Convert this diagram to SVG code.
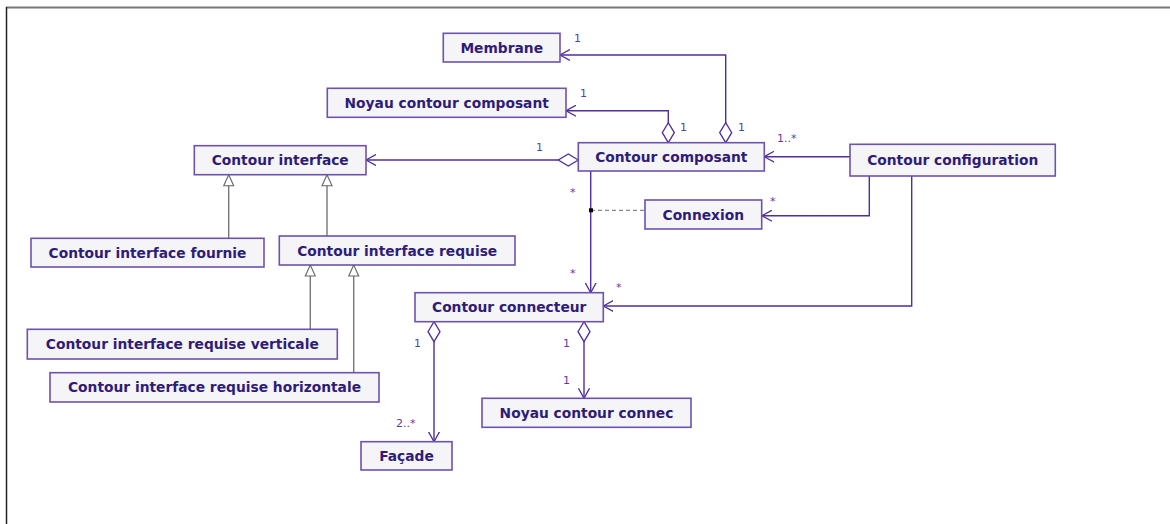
<svg xmlns="http://www.w3.org/2000/svg" width="1170" height="524" viewBox="0 0 1170 524">
<style>
.box{fill:#f5f5f7;stroke:#6e52ad;stroke-width:1.6}
.lbl{font-family:"DejaVu Sans",Verdana,sans-serif;font-weight:bold;font-size:13.8px;fill:#2f1c78;text-anchor:middle}
.m{font-family:"DejaVu Sans",Verdana,sans-serif;font-size:11px;fill:#5a3d9e}
.as{fill:none;stroke:#4e2f9c;stroke-width:1.4}
.gen{fill:none;stroke:#777;stroke-width:1.4}
</style>
<defs>
<marker id="open" viewBox="0 0 10 12" refX="10" refY="6" markerWidth="10" markerHeight="12" orient="auto" markerUnits="userSpaceOnUse"><path d="M0,0.5 L10,6 L0,11.5" fill="none" stroke="#4e2f9c" stroke-width="1.3"/></marker>
<marker id="dia" viewBox="-1 -1 22 14" refX="0" refY="6" markerWidth="22" markerHeight="14" orient="auto" markerUnits="userSpaceOnUse"><path d="M0,6 L10,0 L20,6 L10,12 Z" fill="#fff" stroke="#4e2f9c" stroke-width="1.3"/></marker>
<marker id="tri" viewBox="-1 -1 13 12" refX="11" refY="5" markerWidth="13" markerHeight="12" orient="auto" markerUnits="userSpaceOnUse"><path d="M0,0 L11,5 L0,10 Z" fill="#fff" stroke="#666" stroke-width="1.1"/></marker>
</defs>
<rect width="1170" height="524" fill="#fff"/>
<line x1="6" y1="7.5" x2="1170" y2="7.5" stroke="#777" stroke-width="2"/>
<line x1="6.5" y1="7" x2="6.5" y2="524" stroke="#222" stroke-width="1.5"/>

<g id="connectors">
<path class="as" d="M725.7,142.7 V55 H560" marker-start="url(#dia)" marker-end="url(#open)"/>
<path class="as" d="M668.3,142.7 V110.7 H566" marker-start="url(#dia)" marker-end="url(#open)"/>
<path class="as" d="M578.3,160 H366" marker-start="url(#dia)" marker-end="url(#open)"/>
<path class="as" d="M850,156.7 H764.3" marker-end="url(#open)"/>
<path class="as" d="M869.3,176 V215.7 H762" marker-end="url(#open)"/>
<path class="as" d="M911.7,176 V306 H603.3" marker-end="url(#open)"/>
<path class="as" d="M590.7,171 V292.7" marker-end="url(#open)"/>
<path d="M591,210.3 H645" fill="none" stroke="#888" stroke-width="1.3" stroke-dasharray="4,3"/>
<rect x="589" y="208.3" width="4" height="4" fill="#000"/>
<path class="as" d="M434,321.7 V441.7" marker-start="url(#dia)" marker-end="url(#open)"/>
<path class="as" d="M584,321.7 V398.3" marker-start="url(#dia)" marker-end="url(#open)"/>
<path class="gen" d="M228.7,238 V174.7" marker-end="url(#tri)"/>
<path class="gen" d="M327,236 V174.7" marker-end="url(#tri)"/>
<path class="gen" d="M310.3,329.3 V265" marker-end="url(#tri)"/>
<path class="gen" d="M353.7,372.7 V265" marker-end="url(#tri)"/>
<text class="m" x="574" y="42">1</text>
<text class="m" x="580" y="97">1</text>
<text class="m" x="680" y="131">1</text>
<text class="m" x="738" y="131">1</text>
<text class="m" x="536" y="151">1</text>
<text class="m" x="777" y="142">1..*</text>
<text class="m" x="770" y="205">*</text>
<text class="m" x="570" y="196">*</text>
<text class="m" x="570" y="277">*</text>
<text class="m" x="616" y="291">*</text>
<text class="m" x="414" y="347">1</text>
<text class="m" x="396" y="427">2..*</text>
<text class="m" x="563" y="347">1</text>
<text class="m" x="563" y="384">1</text>
</g>

<g id="membrane"><rect class="box" x="443.3" y="33.3" width="116.7" height="28.7"/><text class="lbl" x="501.7" y="52.5">Membrane</text></g>
<g id="noyau-contour-composant"><rect class="box" x="327.3" y="88.3" width="238.7" height="29"/><text class="lbl" x="446.7" y="107.7">Noyau contour composant</text></g>
<g id="contour-composant"><rect class="box" x="578.3" y="142.7" width="186" height="28.3"/><text class="lbl" x="671.3" y="161.8">Contour composant</text></g>
<g id="contour-configuration"><rect class="box" x="850" y="144.3" width="205.3" height="31.7"/><text class="lbl" x="952.7" y="165">Contour configuration</text></g>
<g id="contour-interface"><rect class="box" x="194.3" y="145.7" width="171.7" height="29"/><text class="lbl" x="280.2" y="165.1">Contour interface</text></g>
<g id="connexion"><rect class="box" x="645" y="200" width="116.7" height="29"/><text class="lbl" x="703.3" y="219.5">Connexion</text></g>
<g id="contour-interface-fournie"><rect class="box" x="31" y="238.3" width="233" height="28.7"/><text class="lbl" x="147.5" y="257.7">Contour interface fournie</text></g>
<g id="contour-interface-requise"><rect class="box" x="279.3" y="236" width="235.7" height="29"/><text class="lbl" x="397.2" y="255.5">Contour interface requise</text></g>
<g id="contour-connecteur"><rect class="box" x="415" y="292.7" width="188.3" height="29"/><text class="lbl" x="509.2" y="312.2">Contour connecteur</text></g>
<g id="contour-interface-requise-verticale"><rect class="box" x="27.3" y="329.3" width="310" height="29.7"/><text class="lbl" x="182.3" y="349.1">Contour interface requise verticale</text></g>
<g id="contour-interface-requise-horizontale"><rect class="box" x="50" y="372.7" width="329" height="29.3"/><text class="lbl" x="214.5" y="392.3">Contour interface requise horizontale</text></g>
<g id="noyau-contour-connec"><rect class="box" x="482" y="398.3" width="209" height="29"/><text class="lbl" x="586.5" y="417.8">Noyau contour connec</text></g>
<g id="facade"><rect class="box" x="361" y="441.7" width="91" height="28.3"/><text class="lbl" x="406.5" y="461">Façade</text></g>
</svg>
